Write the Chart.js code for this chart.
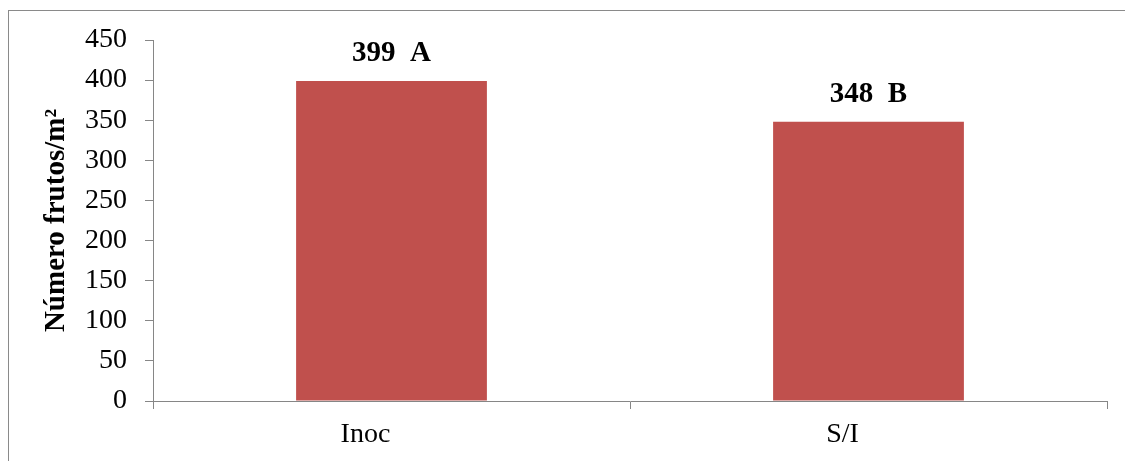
<!DOCTYPE html>
<html>
<head>
<meta charset="utf-8">
<script src="https://cdn.jsdelivr.net/npm/chart.js@4/dist/chart.umd.min.js"></script>
<style>
  html, body { margin: 0; padding: 0; background: #ffffff; }
  #wrap { width: 1125px; height: 461px; }
</style>
</head>
<body>
<div id="wrap"><canvas id="c" width="1125" height="461"></canvas></div>
<script>
// Fruit count per square metre, inoculated vs. non-inoculated
const categories = ['Inoc', 'S/I'];
const fruitCounts = [399, 348];
const groupLetters = ['A', 'B'];
const yTickMin = 0;
const yTickMax = 450;
const yTickStep = 50;
const yAxisTitle = 'Número frutos/m²';

const SERIF = '"Liberation Serif", "Times New Roman", Times, serif';
const AXIS_GREY = '#868686';
const BAR_RED = '#C0504D';

// White page with a thin frame around the chart object
const framePlugin = {
  id: 'frame',
  beforeDraw(chart) {
    const ctx = chart.ctx;
    ctx.save();
    ctx.fillStyle = '#ffffff';
    ctx.fillRect(0, 0, chart.width, chart.height);
    ctx.strokeStyle = '#8a8a8a';
    ctx.lineWidth = 1;
    ctx.strokeRect(8.5, 10.5, chart.width + 20, chart.height + 20);
    ctx.restore();
  }
};

// Value and significance letter above each bar
const valueLabelPlugin = {
  id: 'valueLabels',
  afterDatasetsDraw(chart) {
    const ctx = chart.ctx;
    const meta = chart.getDatasetMeta(0);
    ctx.save();
    ctx.font = 'bold 29px ' + SERIF;
    ctx.fillStyle = '#000000';
    ctx.textAlign = 'center';
    ctx.textBaseline = 'middle';
    meta.data.forEach((bar, i) => {
      const text = fruitCounts[i] + '  ' + groupLetters[i];
      ctx.fillText(text, bar.x, bar.y - 27);
    });
    ctx.restore();
  }
};

new Chart(document.getElementById('c'), {
  type: 'bar',
  data: {
    labels: categories,
    datasets: [{
      data: fruitCounts,
      backgroundColor: BAR_RED,
      borderWidth: 0,
      barPercentage: 0.4,
      categoryPercentage: 1.0
    }]
  },
  options: {
    responsive: false,
    animation: false,
    layout: { padding: { top: 40, right: 18, bottom: 0, left: 0 } },
    plugins: {
      legend: { display: false },
      tooltip: { enabled: false }
    },
    scales: {
      x: {
        grid: {
          offset: true,
          drawOnChartArea: false,
          drawTicks: true,
          tickLength: 8,
          color: AXIS_GREY,
          lineWidth: 1
        },
        border: { color: AXIS_GREY, width: 1 },
        ticks: {
          color: '#000000',
          font: { family: SERIF, size: 28 },
          padding: 9,
          labelOffset: -26,
          maxRotation: 0
        },
        afterFit(scale) { scale.height = 60; }
      },
      y: {
        min: yTickMin,
        max: yTickMax,
        grid: {
          drawOnChartArea: false,
          drawTicks: true,
          tickLength: 8,
          color: AXIS_GREY,
          lineWidth: 1
        },
        border: { color: AXIS_GREY, width: 1 },
        ticks: {
          stepSize: yTickStep,
          color: '#000000',
          font: { family: SERIF, size: 28 },
          padding: 18
        },
        title: {
          display: true,
          text: yAxisTitle,
          color: '#000000',
          font: { family: SERIF, size: 29, weight: 'bold' },
          padding: { top: 39, bottom: 0 }
        },
        afterFit(scale) { scale.width = 153; }
      }
    }
  },
  plugins: [framePlugin, valueLabelPlugin]
});
</script>
</body>
</html>
